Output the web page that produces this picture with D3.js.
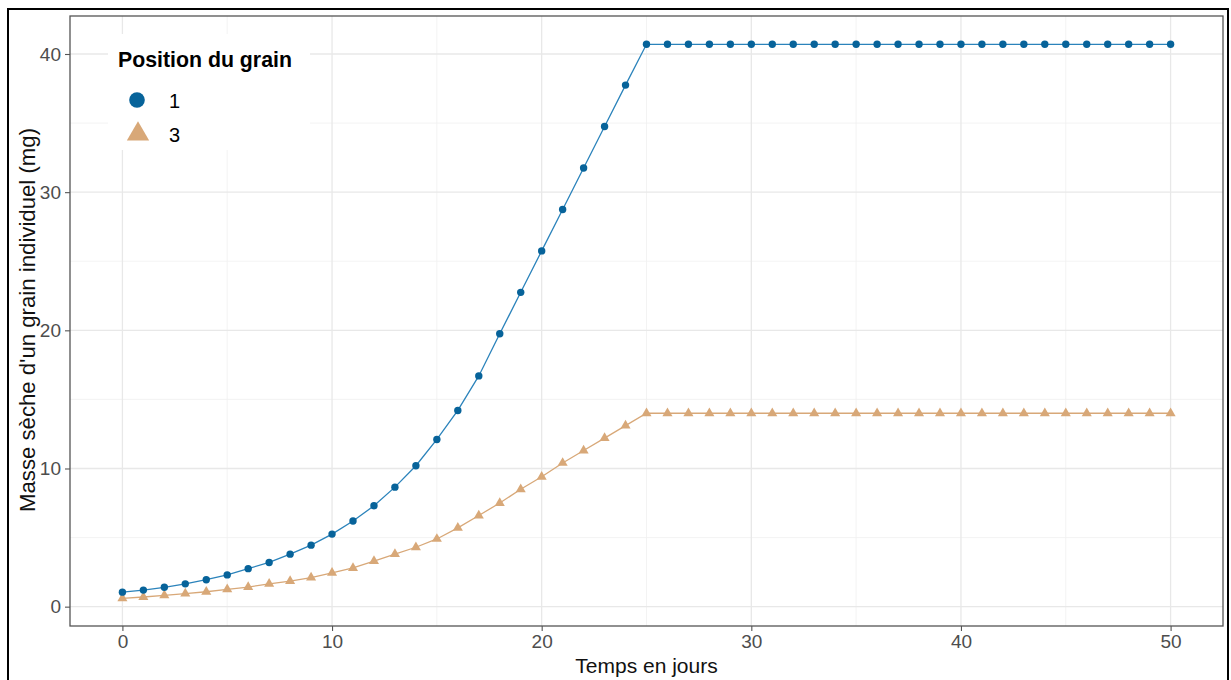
<!DOCTYPE html>
<html><head><meta charset="utf-8">
<script src="https://cdn.jsdelivr.net/npm/d3@7"></script>
<style>body{margin:0;background:#fff}svg{display:block;font-family:"Liberation Sans",Arial,sans-serif}</style>
</head><body><svg id="c" width="1231" height="680"></svg>
<script>
const days = d3.range(0, 51);
const pos1 = [1.05,1.2,1.4,1.65,1.95,2.3,2.75,3.2,3.8,4.45,5.25,6.2,7.3,8.65,10.2,12.1,14.2,16.7,19.75,22.75,25.75,28.75,31.75,34.75,37.75,40.7,
  40.7,40.7,40.7,40.7,40.7,40.7,40.7,40.7,40.7,40.7,40.7,40.7,40.7,40.7,40.7,40.7,40.7,40.7,40.7,40.7,40.7,40.7,40.7,40.7,40.7];
const pos3 = [0.6,0.7,0.82,0.95,1.08,1.25,1.42,1.65,1.85,2.1,2.45,2.8,3.3,3.8,4.3,4.9,5.7,6.6,7.5,8.5,9.4,10.4,11.3,12.2,13.1,14.0,
  14.0,14.0,14.0,14.0,14.0,14.0,14.0,14.0,14.0,14.0,14.0,14.0,14.0,14.0,14.0,14.0,14.0,14.0,14.0,14.0,14.0,14.0,14.0,14.0,14.0];
const xTicks = [0,10,20,30,40,50];
const yTicks = [0,10,20,30,40];
const xMinor = [5,15,25,35,45];
const yMinor = [5,15,25,35];
const legendLabels = ["1","3"];

const svg = d3.select("#c");
const P = {l:70, r:1223, t:16, b:626};
const x = d3.scaleLinear().domain([-2.5,52.5]).range([P.l,P.r]);
const y = d3.scaleLinear().domain([-1.4,42.75]).range([P.b,P.t]);

const blue = "#07639A", blueLine = "#2b83bb", tan = "#D8A878";

// outer frame
svg.append("rect").attr("x",8).attr("y",9).attr("width",1220).attr("height",675)
  .attr("fill","none").attr("stroke","#000").attr("stroke-width",2);

// grids
const g = svg.append("g");
g.selectAll(".xm").data(xMinor).join("line").attr("x1",d=>x(d)).attr("x2",d=>x(d)).attr("y1",P.t).attr("y2",P.b).attr("stroke","#f0f0f0").attr("stroke-width",0.8);
g.selectAll(".ym").data(yMinor).join("line").attr("y1",d=>y(d)).attr("y2",d=>y(d)).attr("x1",P.l).attr("x2",P.r).attr("stroke","#f0f0f0").attr("stroke-width",0.8);
g.selectAll(".xM").data(xTicks).join("line").attr("x1",d=>x(d)).attr("x2",d=>x(d)).attr("y1",P.t).attr("y2",P.b).attr("stroke","#e8e8e8").attr("stroke-width",1.3);
g.selectAll(".yM").data(yTicks).join("line").attr("y1",d=>y(d)).attr("y2",d=>y(d)).attr("x1",P.l).attr("x2",P.r).attr("stroke","#e8e8e8").attr("stroke-width",1.3);

// legend background (covers grid)
svg.append("rect").attr("x",108).attr("y",34).attr("width",202).attr("height",116).attr("fill","#fff");

// axes
const xa = svg.append("g").attr("transform",`translate(0,${P.b})`).call(d3.axisBottom(x).tickValues(xTicks).tickSize(5).tickPadding(4));
const ya = svg.append("g").attr("transform",`translate(${P.l},0)`).call(d3.axisLeft(y).tickValues(yTicks).tickSize(5).tickPadding(4));
[xa,ya].forEach(a=>{a.select(".domain").remove();
  a.selectAll("line").attr("stroke","#555").attr("stroke-width",1.1);
  a.selectAll("text").attr("fill","#4d4d4d").style("font-size","19px").style("font-family","'Liberation Sans',Arial,sans-serif");});

// lines
const line = d3.line().x((d,i)=>x(days[i])).y(d=>y(d));
svg.append("path").datum(pos3).attr("d",line).attr("fill","none").attr("stroke",tan).attr("stroke-width",1.3);
svg.append("path").datum(pos1).attr("d",line).attr("fill","none").attr("stroke",blueLine).attr("stroke-width",1.3);

// points
const tri = d3.symbol().type(d3.symbolTriangle).size(44);
svg.append("g").selectAll("path").data(pos3).join("path").attr("d",tri)
  .attr("transform",(d,i)=>`translate(${x(days[i])},${y(d)})`).attr("fill",tan);
svg.append("g").selectAll("circle").data(pos1).join("circle")
  .attr("cx",(d,i)=>x(days[i])).attr("cy",d=>y(d)).attr("r",3.7).attr("fill",blue);

// panel border
svg.append("rect").attr("x",P.l).attr("y",P.t).attr("width",P.r-P.l).attr("height",P.b-P.t)
  .attr("fill","none").attr("stroke","#555").attr("stroke-width",1.3);

// axis titles
svg.append("text").attr("x",(P.l+P.r)/2).attr("y",673).attr("text-anchor","middle").style("font-size","21px").attr("fill","#111").text("Temps en jours");
svg.append("text").attr("transform",`translate(35,${(P.t+P.b)/2 - 1}) rotate(-90)`).attr("text-anchor","middle").style("font-size","22.2px").attr("fill","#111").text("Masse sèche d'un grain individuel (mg)");

// legend
svg.append("text").attr("x",118).attr("y",67).style("font-size","21.3px").style("font-weight","bold").attr("fill","#000").text("Position du grain");
const lg = svg.append("g");
lg.append("circle").attr("cx",137).attr("cy",100).attr("r",7.8).attr("fill",blue);
lg.append("path").attr("d",d3.symbol().type(d3.symbolTriangle).size(215)).attr("transform","translate(138,134)").attr("fill",tan);
lg.selectAll("text").data(legendLabels).join("text").attr("x",169).attr("y",(d,i)=>108+i*33.5).style("font-size","20px").attr("fill","#000").text(d=>d);
</script></body></html>
